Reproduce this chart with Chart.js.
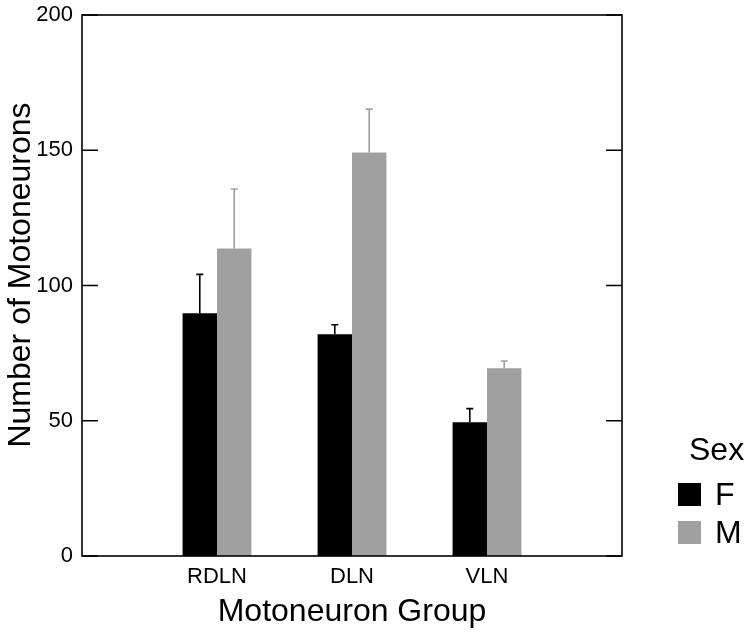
<!DOCTYPE html>
<html>
<head>
<meta charset="utf-8">
<script src="https://cdn.jsdelivr.net/npm/chart.js@4.4.0/dist/chart.umd.min.js"></script>
<style>
  html, body { margin: 0; padding: 0; background: #fff; }
</style>
</head>
<body>
<canvas id="chart" width="751" height="635"></canvas>
<script>
// Data
const groups = ['RDLN', 'DLN', 'VLN'];
const sexes = ['F', 'M'];
const meanF = [89.7, 82.0, 49.4];
const meanM = [113.7, 149.2, 69.4];
const errF = [14.4, 3.5, 5.1];
const errM = [22.0, 16.0, 2.7];
const yTicks = [0, 50, 100, 150, 200];

const colorF = '#000000';
const colorM = '#a0a0a0';
const FONT = "'Liberation Sans', Arial, Helvetica, sans-serif";

Chart.defaults.font.family = FONT;
Chart.defaults.color = '#000000';

// error bars, box frame, inward ticks, y title and legend
const extrasPlugin = {
    id: 'extras',
    afterDatasetsDraw(chart) {
        const ctx = chart.ctx;
        const a = chart.chartArea;
        const y = chart.scales.y;
        ctx.save();

        // error bars (upper only)
        chart.data.datasets.forEach((ds, i) => {
            const meta = chart.getDatasetMeta(i);
            meta.data.forEach((bar, j) => {
                const top = y.getPixelForValue(ds.data[j].y + ds.errors[j]);
                ctx.strokeStyle = ds.backgroundColor;
                ctx.lineWidth = 1.6;
                ctx.beginPath();
                ctx.moveTo(bar.x, bar.y);
                ctx.lineTo(bar.x, top);
                ctx.moveTo(bar.x - 3.5, top);
                ctx.lineTo(bar.x + 3.5, top);
                ctx.stroke();
            });
        });

        // frame
        ctx.strokeStyle = '#000';
        ctx.lineWidth = 1.6;
        ctx.strokeRect(a.left, a.top, a.right - a.left, a.bottom - a.top);

        // inward ticks on both sides
        ctx.beginPath();
        yTicks.forEach(v => {
            const py = y.getPixelForValue(v);
            ctx.moveTo(a.left, py);
            ctx.lineTo(a.left + 16, py);
            ctx.moveTo(a.right - 16, py);
            ctx.lineTo(a.right, py);
        });
        ctx.stroke();

        // y axis title
        ctx.fillStyle = '#000';
        ctx.font = '32px ' + FONT;
        ctx.textAlign = 'center';
        ctx.textBaseline = 'middle';
        ctx.save();
        ctx.translate(21, 275);
        ctx.rotate(-Math.PI / 2);
        ctx.fillText('Number of Motoneurons', 0, 0);
        ctx.restore();

        // legend
        ctx.textAlign = 'left';
        ctx.textBaseline = 'alphabetic';
        ctx.fillText('Sex', 689, 460);
        chart.data.datasets.forEach((ds, i) => {
            const top = 483 + i * 38;
            ctx.fillStyle = ds.backgroundColor;
            ctx.fillRect(678, top, 23, 23);
            ctx.fillStyle = '#000';
            ctx.fillText(ds.label, 715, top + 22);
        });

        ctx.restore();
    }
};

const chart = new Chart(document.getElementById('chart'), {
    type: 'bar',
    data: {
        datasets: [
            {
                label: sexes[0],
                data: groups.map((g, i) => ({ x: i + 1, y: meanF[i] })),
                errors: errF,
                backgroundColor: colorF,
                borderWidth: 0
            },
            {
                label: sexes[1],
                data: groups.map((g, i) => ({ x: i + 1, y: meanM[i] })),
                errors: errM,
                backgroundColor: colorM,
                borderWidth: 0
            }
        ]
    },
    options: {
        responsive: false,
        animation: false,
        categoryPercentage: 0.51,
        barPercentage: 1.0,
        layout: { padding: { top: 0, right: 129, left: 0, bottom: 0 } },
        plugins: {
            legend: { display: false },
            tooltip: { enabled: false }
        },
        scales: {
            x: {
                type: 'linear',
                min: 0,
                max: 4,
                offset: false,
                grid: { display: false, drawTicks: false, offset: false },
                border: { display: false },
                afterBuildTicks: (scale) => {
                    scale.ticks = groups.map((g, i) => ({ value: i + 1 }));
                },
                afterFit: (scale) => { scale.height = 79; },
                ticks: {
                    autoSkip: false,
                    maxRotation: 0,
                    padding: 8,
                    font: { size: 22 },
                    color: '#000',
                    callback: (v) => groups[v - 1]
                },
                title: {
                    display: true,
                    text: 'Motoneuron Group',
                    font: { size: 32 },
                    color: '#000',
                    padding: { top: 0, bottom: 4 }
                }
            },
            y: {
                min: 0,
                max: 200,
                grid: { display: false, drawTicks: false },
                border: { display: false },
                afterBuildTicks: (scale) => {
                    scale.ticks = yTicks.map(v => ({ value: v }));
                },
                afterFit: (scale) => {
                    scale.width = 82;
                    scale.paddingTop = 15;
                },
                ticks: {
                    padding: 9,
                    font: { size: 22 },
                    color: '#000'
                }
            }
        }
    },
    plugins: [extrasPlugin]
});
</script>
</body>
</html>
